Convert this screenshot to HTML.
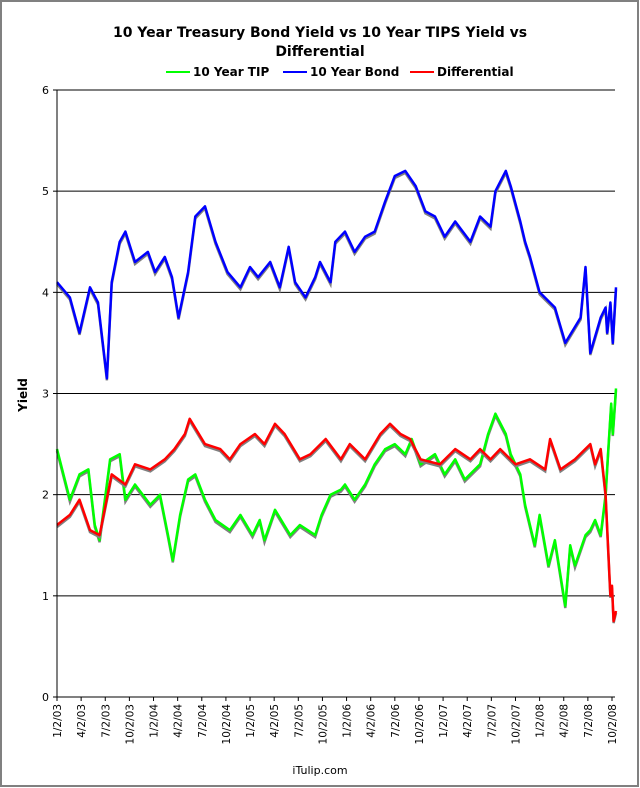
<!DOCTYPE html>
<html><head><meta charset="utf-8"><style>
body{margin:0;background:#fff}
svg{display:block;font-family:"DejaVu Sans","Liberation Sans",sans-serif}
</style></head><body>
<svg id="c" width="640" height="788" viewBox="0 0 640 788">
<rect x="1" y="1" width="637" height="785" fill="#fff" stroke="#808080" stroke-width="2"/>
<text x="320" y="37" text-anchor="middle" font-size="14" font-weight="bold">10 Year Treasury Bond Yield vs 10 Year TIPS Yield vs</text>
<text x="320" y="56" text-anchor="middle" font-size="14" font-weight="bold">Differential</text>
<g font-size="12" font-weight="bold">
<g><line x1="166" y1="72" x2="190" y2="72" stroke="#00ff00" stroke-width="2"/><text x="193" y="76">10 Year TIP</text></g>
<g><line x1="283" y1="72" x2="307" y2="72" stroke="#0000ff" stroke-width="2"/><text x="310" y="76">10 Year Bond</text></g>
<g><line x1="410" y1="72" x2="434" y2="72" stroke="#ff0000" stroke-width="2"/><text x="437" y="76">Differential</text></g>
</g>
<text transform="translate(27,395) rotate(-90)" text-anchor="middle" font-size="12" font-weight="bold">Yield</text>
<g id="grid"></g><g id="series"></g><g id="axes"></g>
<text x="320" y="774" text-anchor="middle" font-size="11">iTulip.com</text>
</svg>
<script>
const yTicks=[0,1,2,3,4,5,6];
const xTickLabels=["1/2/03","4/2/03","7/2/03","10/2/03","1/2/04","4/2/04","7/2/04","10/2/04","1/2/05","4/2/05","7/2/05","10/2/05","1/2/06","4/2/06","7/2/06","10/2/06","1/2/07","4/2/07","7/2/07","10/2/07","1/2/08","4/2/08","7/2/08","10/2/08"];
// months since Jan 2003
const bondDates=[0,1.6,2.8,4.1,5.1,6.2,6.8,7.8,8.5,9.7,11.3,12.2,13.4,14.3,15.1,16.3,17.2,18.4,19.7,21.2,22.8,24.0,25.0,26.5,27.7,28.8,29.6,30.9,32.1,32.7,34.0,34.6,35.8,37.0,38.3,39.5,40.8,42.0,43.3,44.6,45.8,47.0,48.2,49.5,51.4,52.6,53.9,54.5,55.8,56.4,57.6,58.2,58.8,60.0,61.9,63.2,65.1,65.7,66.3,67.6,68.2,68.4,68.8,69.1,69.5];
const bondValues=[4.1,3.95,3.6,4.05,3.9,3.15,4.1,4.5,4.6,4.3,4.4,4.2,4.35,4.15,3.75,4.2,4.75,4.85,4.5,4.2,4.05,4.25,4.15,4.3,4.05,4.45,4.1,3.95,4.15,4.3,4.1,4.5,4.6,4.4,4.55,4.6,4.9,5.15,5.2,5.05,4.8,4.75,4.55,4.7,4.5,4.75,4.65,5.0,5.2,5.05,4.7,4.5,4.35,4.0,3.85,3.5,3.75,4.25,3.4,3.75,3.85,3.6,3.9,3.5,4.05];
const tipDates=[0,1.6,2.8,3.9,4.7,5.3,6.6,7.8,8.5,9.7,11.6,12.8,13.8,14.4,15.3,16.3,17.2,18.4,19.7,21.5,22.8,24.3,25.2,25.8,27.1,29.0,30.2,32.1,32.9,34.0,35.3,35.8,37.0,38.3,39.5,40.8,42.0,43.3,44.1,45.2,47.0,48.2,49.5,50.7,52.6,53.6,54.5,55.8,56.4,57.6,58.2,59.4,60.0,61.1,61.9,62.6,63.2,63.8,64.4,65.7,66.3,66.9,67.6,68.2,68.5,68.9,69.1,69.5];
const tipValues=[2.45,1.95,2.2,2.25,1.7,1.55,2.35,2.4,1.95,2.1,1.9,2.0,1.6,1.35,1.8,2.15,2.2,1.95,1.75,1.65,1.8,1.6,1.75,1.55,1.85,1.6,1.7,1.6,1.8,2.0,2.05,2.1,1.95,2.1,2.3,2.45,2.5,2.4,2.55,2.3,2.4,2.2,2.35,2.15,2.3,2.6,2.8,2.6,2.4,2.2,1.9,1.5,1.8,1.3,1.55,1.2,0.9,1.5,1.3,1.6,1.65,1.75,1.6,2.0,2.4,2.9,2.6,3.05];
const diffDates=[0,1.6,2.8,4.1,5.3,6.8,8.5,9.7,11.6,13.4,14.6,15.9,16.5,18.4,20.3,21.5,22.8,24.6,25.8,27.1,28.3,30.2,31.5,33.4,35.3,36.4,38.3,40.2,41.4,42.7,43.9,45.2,47.6,49.5,51.4,52.6,53.9,55.1,57.0,58.8,60.7,61.3,62.6,64.4,66.3,66.9,67.6,68.2,68.5,68.8,69.0,69.2,69.5];
const diffValues=[1.7,1.8,1.95,1.65,1.6,2.2,2.1,2.3,2.25,2.35,2.45,2.6,2.75,2.5,2.45,2.35,2.5,2.6,2.5,2.7,2.6,2.35,2.4,2.55,2.35,2.5,2.35,2.6,2.7,2.6,2.55,2.35,2.3,2.45,2.35,2.45,2.35,2.45,2.3,2.35,2.25,2.55,2.25,2.35,2.5,2.3,2.45,2.0,1.5,1.0,1.1,0.75,0.85];
const NS="http://www.w3.org/2000/svg";
const L=57,R=615,T=90,B=697;
const xScale=m=>L+m*(612-L)/69;
const yScale=v=>B-v*(B-T)/6;
function mk(tag,attrs,parent){const e=document.createElementNS(NS,tag);for(const k in attrs)e.setAttribute(k,attrs[k]);parent.appendChild(e);return e;}
const grid=document.getElementById('grid'),axes=document.getElementById('axes'),ser=document.getElementById('series');
mk('rect',{x:L,y:T,width:R-L,height:B-T,fill:'#fff'},grid);
yTicks.forEach(v=>{
  if(v>0){const g=mk('line',{x1:L,x2:R,y1:yScale(v),y2:yScale(v),stroke:'#000','stroke-width':1},grid);
  
  }
  const t=mk('text',{x:L-8,y:yScale(v)+4,'text-anchor':'end','font-size':11},axes);t.textContent=v;
  
  
  mk('line',{x1:L-4,x2:L,y1:yScale(v),y2:yScale(v),stroke:'#000'},axes);
});
const ya=mk('line',{x1:L,x2:L,y1:T,y2:B,stroke:'#000','stroke-width':1},axes);


const xa=mk('line',{x1:L,x2:R,y1:B,y2:B,stroke:'#000','stroke-width':1},axes);


xTickLabels.forEach((lab,i)=>{
  const x=xScale(i*3);
  mk('line',{x1:x,x2:x,y1:B,y2:B+4,stroke:'#000'},axes);
  const t=mk('text',{transform:`translate(${x+4},${B+7}) rotate(-90)`,'text-anchor':'end','font-size':10.5},axes);
  t.textContent=lab;
  
  
});
function series(d,v,color,name){
  const pts=d.map((m,i)=>xScale(m).toFixed(1)+','+yScale(v[i]).toFixed(1)).join(' ');
  const sh=mk('polyline',{points:pts,fill:'none',stroke:'#808080','stroke-width':2.5,transform:'translate(0,2)'},ser);
  
  
  const p=mk('polyline',{points:pts,fill:'none',stroke:color,'stroke-width':2.5,'stroke-linejoin':'round'},ser);
  
  
}
series(bondDates,bondValues,'#0000ff','bond-line');
series(tipDates,tipValues,'#00ff00','tip-line');
series(diffDates,diffValues,'#ff0000','differential-line');
</script>
</body></html>
